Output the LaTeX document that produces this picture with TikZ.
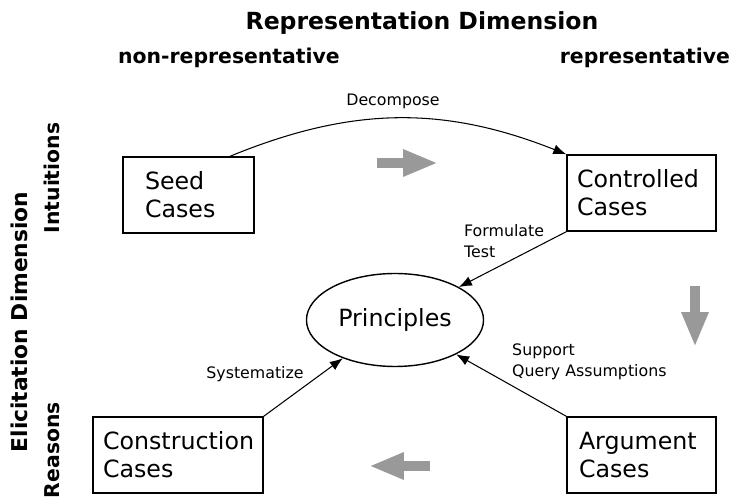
\documentclass[tikz,border=0pt]{standalone}
\usepackage{fontspec}
\setmainfont{DejaVu Sans}
\usetikzlibrary{arrows.meta, positioning, shapes.geometric}
\definecolor{arrgray}{RGB}{153,153,153}

\tikzset{
  casebox/.style={draw, thick, align=left, minimum height=1.52cm, inner ysep=0pt,
    font=\fontsize{13.5}{16}\selectfont},
  edgelabel/.style={align=left, font=\fontsize{9}{12}\selectfont},
  dimlabel/.style={font=\bfseries\fontsize{11.6}{14}\selectfont},
  flow/.style={-{Latex[length=2.6mm,width=2mm]}, semithick},
  bigarrow/.style={draw=arrgray, line width=0.2cm, -{Triangle[length=0.7cm,width=0.5cm]}}
}

\begin{document}
\begin{tikzpicture}[x=0.02cm, y=-0.02cm]
    \useasboundingbox (0,0) rectangle (731,499);

    % Tiêu đề các chiều
    \node[dimlabel, font=\bfseries\fontsize{13.4}{16}\selectfont] (repdim) at (422,23) {Representation Dimension};
    \node[dimlabel] (nonrep) at (229,58) {non-representative};
    \node[dimlabel] (rep) at (645,58) {representative};
    \node[dimlabel, font=\bfseries\fontsize{12.4}{15}\selectfont, rotate=90] (elicdim) at (19,322) {Elicitation Dimension};
    \node[dimlabel, rotate=90] (intu) at (52,178) {Intuitions};
    \node[dimlabel, rotate=90] (reas) at (52,450) {Reasons};

    % Các hộp trường hợp
    \node[casebox, text width=1.74cm, inner xsep=0.44cm] (seed) at (188.5,195) {Seed\\Cases};
    \node[casebox, text width=2.58cm, inner xsep=0.2cm] (ctrl) at (641.5,193) {Controlled\\Cases};
    \node[casebox, text width=3.0cm, inner xsep=0.2cm] (constr) at (178,455) {Construction\\Cases};
    \node[casebox, text width=2.5cm, inner xsep=0.24cm] (arg) at (641.5,455) {Argument\\Cases};

    % Hình elips "Principles" ở giữa
    \node[ellipse, draw, thick, minimum width=2.88cm, minimum height=1.86cm,
          font=\fontsize{13.5}{16}\selectfont] (princ) at (395,320) {Principles};

    % Mũi tên nối
    \draw[flow] ([xshift=0.83cm]seed.north) to[bend left=22] (ctrl.north west);
    \node[edgelabel] (decomp) at (393,101) {Decompose};

    \draw[flow] (ctrl.south west) -- (princ);
    \node[edgelabel, anchor=west] (formtest) at (458,241) {Formulate\\Test};

    \draw[flow] (constr.north east) -- (princ);
    \node[edgelabel] (syst) at (255,374) {Systematize};

    \draw[flow] (arg.north west) -- (princ);
    \node[edgelabel, anchor=west] (support) at (506,362) {Support\\Query Assumptions};

    % Mũi tên xám lớn
    \coordinate (rtail) at (377,163);
    \coordinate (rhead) at (438,163);
    \draw[bigarrow] (rtail) -- (rhead);
    \coordinate (dtail) at (695,286);
    \coordinate (dhead) at (695,347);
    \draw[bigarrow] (dtail) -- (dhead);
    \coordinate (ltail) at (430,466);
    \coordinate (lhead) at (369,466);
    \draw[bigarrow] (ltail) -- (lhead);
\end{tikzpicture}
\end{document}
